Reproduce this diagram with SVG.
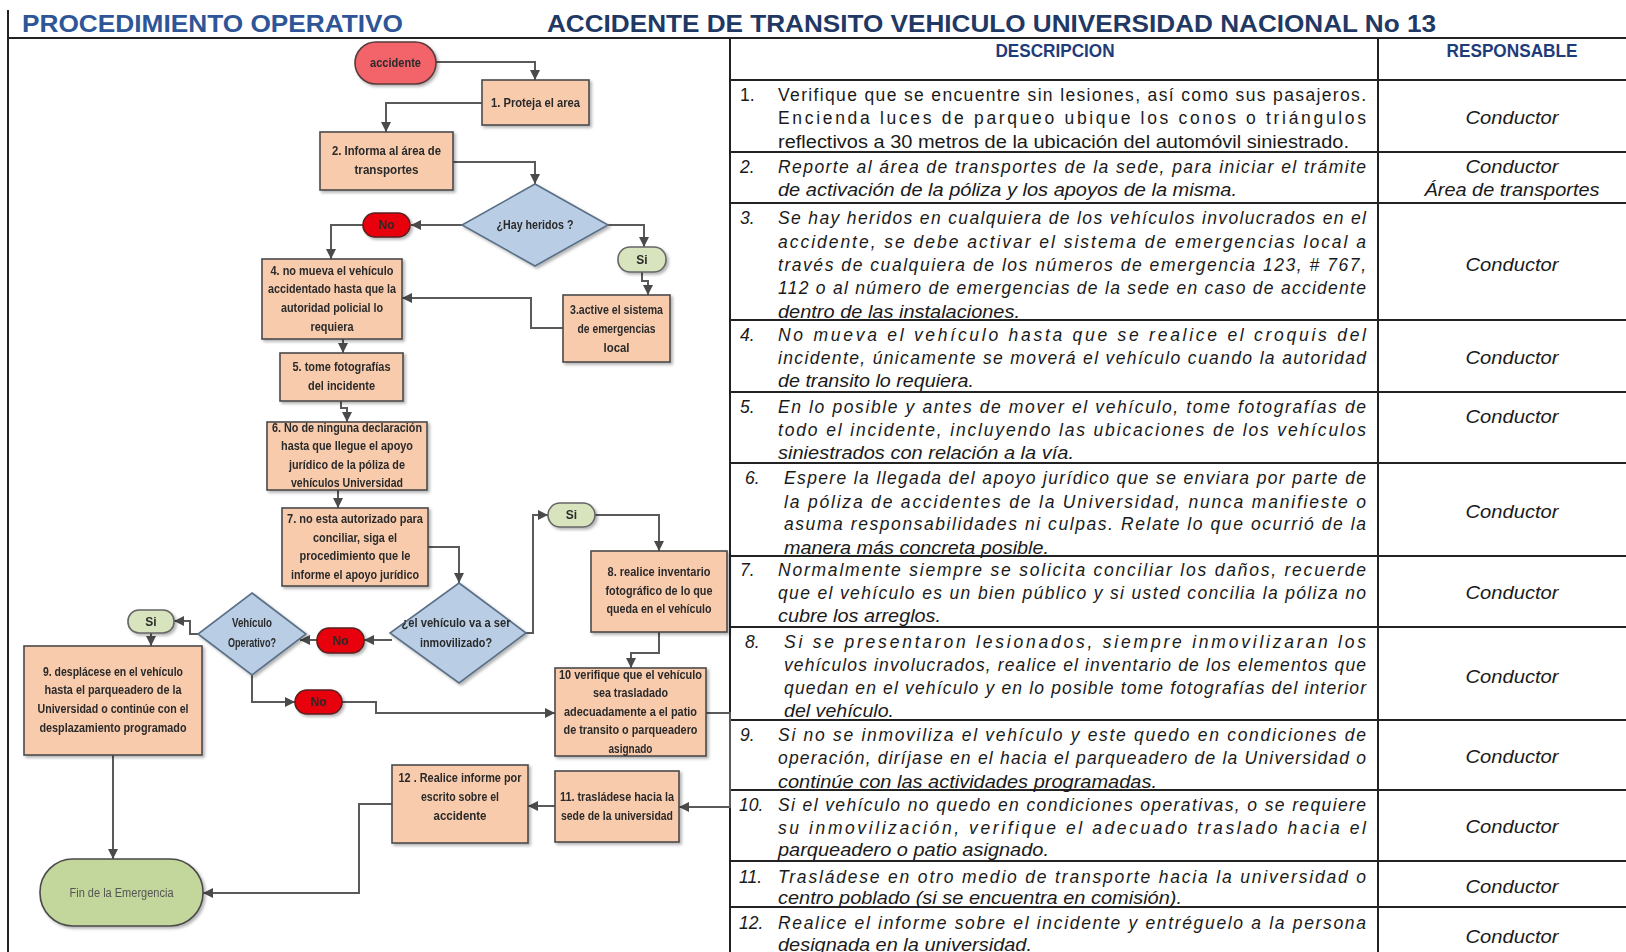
<svg xmlns="http://www.w3.org/2000/svg" width="1626" height="952" viewBox="0 0 1626 952">
<style>
.title{font-family:"Liberation Sans",Arial,sans-serif;font-weight:bold;font-size:24px}
.hdr{font-family:"Liberation Sans",Arial,sans-serif;font-weight:bold;font-size:18px;fill:#1F3C7A;text-anchor:middle}
.box{fill:#F8CBAD;stroke:#4a4a4a;stroke-width:1.6}
.dia{fill:#B9CDE5;stroke:#5a6f86;stroke-width:1.6}
.no{fill:#E8000A;stroke:#5a2020;stroke-width:1.6}
.si{fill:#D7E4BD;stroke:#666;stroke-width:1.6}
.nt{font-family:"Liberation Sans",Arial,sans-serif;font-size:12px;font-weight:bold;fill:#2a2a2a;text-anchor:middle}
.ln{stroke:#222;stroke-width:2;fill:none}
.cn{stroke:#5a5a5a;stroke-width:2;fill:none;marker-end:url(#ah)}
.tx{font-family:"Liberation Sans",Arial,sans-serif;font-size:17.5px;fill:#1a1a1a;font-style:italic}
.tx0{font-family:"Liberation Sans",Arial,sans-serif;font-size:17.5px;fill:#1a1a1a}
.rs{font-family:"Liberation Sans",Arial,sans-serif;font-size:17.5px;fill:#1a1a1a;font-style:italic;text-anchor:middle}
</style>
<defs>
<marker id="ah" viewBox="0 0 10 10" refX="10" refY="5" markerWidth="10" markerHeight="10" markerUnits="userSpaceOnUse" orient="auto">
<path d="M0,0 L10,5 L0,10 z" fill="#4a4a4a"/>
</marker>
<filter id="sh" x="-10%" y="-10%" width="130%" height="130%">
<feDropShadow dx="2" dy="2" stdDeviation="1.5" flood-color="#000" flood-opacity="0.3"/>
</filter>
</defs>
<rect width="1626" height="952" fill="#fff"/>

<g id="frame">
<line class="ln" x1="8" y1="10" x2="8" y2="952"/>
<line class="ln" x1="8" y1="38" x2="1626" y2="38" stroke-width="2.5"/>
<line class="ln" x1="730" y1="38" x2="730" y2="952"/>
<line class="ln" x1="1378" y1="38" x2="1378" y2="952"/>
<line class="ln" x1="730" y1="80" x2="1626" y2="80"/>
<line class="ln" x1="730" y1="152" x2="1626" y2="152"/>
<line class="ln" x1="730" y1="203" x2="1626" y2="203"/>
<line class="ln" x1="730" y1="320" x2="1626" y2="320"/>
<line class="ln" x1="730" y1="392" x2="1626" y2="392"/>
<line class="ln" x1="730" y1="463" x2="1626" y2="463"/>
<line class="ln" x1="730" y1="556" x2="1626" y2="556"/>
<line class="ln" x1="730" y1="627" x2="1626" y2="627"/>
<line class="ln" x1="730" y1="720" x2="1626" y2="720"/>
<line class="ln" x1="730" y1="790" x2="1626" y2="790"/>
<line class="ln" x1="730" y1="861" x2="1626" y2="861"/>
<line class="ln" x1="730" y1="907" x2="1626" y2="907"/>
<text class="title" x="22" y="32" fill="#2E5597" textLength="381" lengthAdjust="spacingAndGlyphs">PROCEDIMIENTO OPERATIVO</text>
<text class="title" x="547" y="32" fill="#1F3864" textLength="889" lengthAdjust="spacingAndGlyphs">ACCIDENTE DE TRANSITO VEHICULO UNIVERSIDAD NACIONAL No 13</text>
<text class="hdr" x="1055" y="57" textLength="119" lengthAdjust="spacingAndGlyphs">DESCRIPCION</text>
<text class="hdr" x="1512" y="57" textLength="131" lengthAdjust="spacingAndGlyphs">RESPONSABLE</text>
</g>

<g id="table-text">
<text class="tx0" x="740" y="101">1.</text>
<text class="tx0" x="778" y="101" textLength="588" lengthAdjust="spacing">Verifique que se encuentre sin lesiones, así como sus pasajeros.</text>
<text class="tx0" x="778" y="124" textLength="588" lengthAdjust="spacing">Encienda luces de parqueo ubique los conos o triángulos</text>
<text class="tx0" x="778" y="148" textLength="571" lengthAdjust="spacingAndGlyphs">reflectivos a 30 metros de la ubicación del automóvil siniestrado.</text>
<text class="rs" x="1512" y="124" textLength="93" lengthAdjust="spacingAndGlyphs">Conductor</text>

<text class="tx" x="740" y="173">2.</text>
<text class="tx" x="778" y="173" textLength="588" lengthAdjust="spacing">Reporte al área de transportes de la sede, para iniciar el trámite</text>
<text class="tx" x="778" y="196" textLength="459" lengthAdjust="spacingAndGlyphs">de activación de la póliza y los apoyos de la misma.</text>
<text class="rs" x="1512" y="173" textLength="93" lengthAdjust="spacingAndGlyphs">Conductor</text>
<text class="rs" x="1512" y="196" textLength="175" lengthAdjust="spacingAndGlyphs">Área de transportes</text>

<text class="tx" x="740" y="224">3.</text>
<text class="tx" x="778" y="224" textLength="588" lengthAdjust="spacing">Se hay heridos en cualquiera de los vehículos involucrados en el</text>
<text class="tx" x="778" y="248" textLength="588" lengthAdjust="spacing">accidente, se debe activar el sistema de emergencias local a</text>
<text class="tx" x="778" y="271" textLength="588" lengthAdjust="spacing">través de cualquiera de los números de emergencia 123, # 767,</text>
<text class="tx" x="778" y="294" textLength="588" lengthAdjust="spacing">112 o al número de emergencias de la sede en caso de accidente</text>
<text class="tx" x="778" y="318" textLength="242" lengthAdjust="spacingAndGlyphs">dentro de las instalaciones.</text>
<text class="rs" x="1512" y="271" textLength="93" lengthAdjust="spacingAndGlyphs">Conductor</text>

<text class="tx" x="740" y="341">4.</text>
<text class="tx" x="778" y="341" textLength="588" lengthAdjust="spacing">No mueva el vehículo hasta que se realice el croquis del</text>
<text class="tx" x="778" y="364" textLength="588" lengthAdjust="spacing">incidente, únicamente se moverá el vehículo cuando la autoridad</text>
<text class="tx" x="778" y="387" textLength="196" lengthAdjust="spacingAndGlyphs">de transito lo requiera.</text>
<text class="rs" x="1512" y="364" textLength="93" lengthAdjust="spacingAndGlyphs">Conductor</text>

<text class="tx" x="740" y="413">5.</text>
<text class="tx" x="778" y="413" textLength="588" lengthAdjust="spacing">En lo posible y antes de mover el vehículo, tome fotografías de</text>
<text class="tx" x="778" y="436" textLength="588" lengthAdjust="spacing">todo el incidente, incluyendo las ubicaciones de los vehículos</text>
<text class="tx" x="778" y="459" textLength="296" lengthAdjust="spacingAndGlyphs">siniestrados con relación a la vía.</text>
<text class="rs" x="1512" y="423" textLength="93" lengthAdjust="spacingAndGlyphs">Conductor</text>

<text class="tx" x="745" y="484">6.</text>
<text class="tx" x="784" y="484" textLength="582" lengthAdjust="spacing">Espere la llegada del apoyo jurídico que se enviara por parte de</text>
<text class="tx" x="784" y="508" textLength="582" lengthAdjust="spacing">la póliza de accidentes de la Universidad, nunca manifieste o</text>
<text class="tx" x="784" y="530" textLength="582" lengthAdjust="spacing">asuma responsabilidades ni culpas. Relate lo que ocurrió de la</text>
<text class="tx" x="784" y="554" textLength="265" lengthAdjust="spacingAndGlyphs">manera más concreta posible.</text>
<text class="rs" x="1512" y="518" textLength="93" lengthAdjust="spacingAndGlyphs">Conductor</text>

<text class="tx" x="740" y="576">7.</text>
<text class="tx" x="778" y="576" textLength="588" lengthAdjust="spacing">Normalmente siempre se solicita conciliar los daños, recuerde</text>
<text class="tx" x="778" y="599" textLength="588" lengthAdjust="spacing">que el vehículo es un bien público y si usted concilia la póliza no</text>
<text class="tx" x="778" y="622" textLength="163" lengthAdjust="spacingAndGlyphs">cubre los arreglos.</text>
<text class="rs" x="1512" y="599" textLength="93" lengthAdjust="spacingAndGlyphs">Conductor</text>

<text class="tx" x="745" y="648">8.</text>
<text class="tx" x="784" y="648" textLength="582" lengthAdjust="spacing">Si se presentaron lesionados, siempre inmovilizaran los</text>
<text class="tx" x="784" y="671" textLength="582" lengthAdjust="spacing">vehículos involucrados, realice el inventario de los elementos que</text>
<text class="tx" x="784" y="694" textLength="582" lengthAdjust="spacing">quedan en el vehículo y en lo posible tome fotografías del interior</text>
<text class="tx" x="784" y="717" textLength="110" lengthAdjust="spacingAndGlyphs">del vehículo.</text>
<text class="rs" x="1512" y="683" textLength="93" lengthAdjust="spacingAndGlyphs">Conductor</text>

<text class="tx" x="740" y="741">9.</text>
<text class="tx" x="778" y="741" textLength="588" lengthAdjust="spacing">Si no se inmoviliza el vehículo y este quedo en condiciones de</text>
<text class="tx" x="778" y="764" textLength="588" lengthAdjust="spacing">operación, diríjase en el hacia el parqueadero de la Universidad o</text>
<text class="tx" x="778" y="788" textLength="379" lengthAdjust="spacingAndGlyphs">continúe con las actividades programadas.</text>
<text class="rs" x="1512" y="763" textLength="93" lengthAdjust="spacingAndGlyphs">Conductor</text>

<text class="tx" x="739" y="811">10.</text>
<text class="tx" x="778" y="811" textLength="588" lengthAdjust="spacing">Si el vehículo no quedo en condiciones operativas, o se requiere</text>
<text class="tx" x="778" y="834" textLength="588" lengthAdjust="spacing">su inmovilización, verifique el adecuado traslado hacia el</text>
<text class="tx" x="778" y="856" textLength="271" lengthAdjust="spacingAndGlyphs">parqueadero o patio asignado.</text>
<text class="rs" x="1512" y="833" textLength="93" lengthAdjust="spacingAndGlyphs">Conductor</text>

<text class="tx" x="739" y="883">11.</text>
<text class="tx" x="778" y="883" textLength="588" lengthAdjust="spacing">Trasládese en otro medio de transporte hacia la universidad o</text>
<text class="tx" x="778" y="904" textLength="404" lengthAdjust="spacingAndGlyphs">centro poblado (si se encuentra en comisión).</text>
<text class="rs" x="1512" y="893" textLength="93" lengthAdjust="spacingAndGlyphs">Conductor</text>

<text class="tx" x="739" y="929">12.</text>
<text class="tx" x="778" y="929" textLength="588" lengthAdjust="spacing">Realice el informe sobre el incidente y entréguelo a la persona</text>
<text class="tx" x="778" y="951" textLength="254" lengthAdjust="spacingAndGlyphs">designada en la universidad.</text>
<text class="rs" x="1512" y="943" textLength="93" lengthAdjust="spacingAndGlyphs">Conductor</text>
</g>

<g id="connectors">
<path class="cn" d="M436,62 H535 V80"/>
<path class="cn" d="M482,103 H386 V132"/>
<path class="cn" d="M453,162 H535 V184"/>
<path class="cn" d="M462,225 H411"/>
<path class="cn" d="M363,225 H331 V259"/>
<path class="cn" d="M608,225 H644 V247"/>
<path class="cn" d="M642,272 V281 H648 V295"/>
<path class="cn" d="M563,328 H531 V298 H402"/>
<path class="cn" d="M343,339 V353"/>
<path class="cn" d="M341,401 V408 H347 V422"/>
<path class="cn" d="M338,490 V508"/>
<path class="cn" d="M428,547 H459 V583"/>
<path class="cn" d="M524,633 H533 V515 H548"/>
<path class="cn" d="M595,515 H659 V551"/>
<path class="cn" d="M659,632 V653 H631 V668"/>
<path class="cn" d="M392,640 H364"/>
<path class="cn" d="M317,640 H300"/>
<path class="cn" d="M198,634 H190 V621 H174"/>
<path class="cn" d="M151,633 V646"/>
<path class="cn" d="M252,675 V702 H295"/>
<path class="cn" d="M342,702 H376 V713 H555"/>
<path class="cn" d="M706,713 H730 V807 H679"/>
<path class="cn" d="M555,806 H528"/>
<path class="cn" d="M392,804 H359 V893 H203"/>
<path class="cn" d="M113,755 V859"/>
</g>

<g id="n-accidente" filter="url(#sh)">
<rect x="355" y="42" width="81" height="42" rx="21" fill="#F2636B" stroke="#5a3a3a" stroke-width="1.6"/>
<text class="nt" x="395.5" y="67" textLength="51" lengthAdjust="spacingAndGlyphs">accidente</text>
</g>
<g id="n-1" filter="url(#sh)">
<rect class="box" x="482" y="80" width="107" height="45"/>
<text class="nt" x="535.5" y="107" textLength="89" lengthAdjust="spacingAndGlyphs">1. Proteja el area</text>
</g>
<g id="n-2" filter="url(#sh)">
<rect class="box" x="320" y="132" width="133" height="58"/>
<text class="nt" x="386.5" y="155" textLength="109" lengthAdjust="spacingAndGlyphs">2. Informa al área de</text>
<text class="nt" x="386.5" y="174" textLength="64" lengthAdjust="spacingAndGlyphs">transportes</text>
</g>
<g id="d-heridos" filter="url(#sh)">
<polygon class="dia" points="535,184 608,225 535,266 462,225"/>
<text class="nt" x="535" y="229" textLength="77" lengthAdjust="spacingAndGlyphs">¿Hay heridos ?</text>
</g>
<g id="p-no1" filter="url(#sh)">
<rect class="no" x="363" y="213" width="47" height="24" rx="12"/>
<text class="nt" x="386.5" y="229">No</text>
</g>
<g id="p-si1" filter="url(#sh)">
<rect class="si" x="618" y="247" width="48" height="25" rx="12"/>
<text class="nt" x="642" y="264">Si</text>
</g>
<g id="n-3" filter="url(#sh)">
<rect class="box" x="563" y="295" width="107" height="67"/>
<text class="nt" x="616.5" y="314" textLength="93" lengthAdjust="spacingAndGlyphs">3.active el sistema</text>
<text class="nt" x="616.5" y="333" textLength="78" lengthAdjust="spacingAndGlyphs">de emergencias</text>
<text class="nt" x="616.5" y="352" textLength="26" lengthAdjust="spacingAndGlyphs">local</text>
</g>
<g id="n-4" filter="url(#sh)">
<rect class="box" x="262" y="259" width="140" height="80"/>
<text class="nt" x="332" y="275" textLength="123" lengthAdjust="spacingAndGlyphs">4. no mueva el vehículo</text>
<text class="nt" x="332" y="293" textLength="128" lengthAdjust="spacingAndGlyphs">accidentado hasta que la</text>
<text class="nt" x="332" y="312" textLength="102" lengthAdjust="spacingAndGlyphs">autoridad policial lo</text>
<text class="nt" x="332" y="331" textLength="43" lengthAdjust="spacingAndGlyphs">requiera</text>
</g>
<g id="n-5" filter="url(#sh)">
<rect class="box" x="280" y="353" width="123" height="48"/>
<text class="nt" x="341.5" y="371" textLength="98" lengthAdjust="spacingAndGlyphs">5. tome fotografías</text>
<text class="nt" x="341.5" y="390" textLength="67" lengthAdjust="spacingAndGlyphs">del incidente</text>
</g>
<g id="n-6" filter="url(#sh)">
<rect class="box" x="267" y="422" width="160" height="68"/>
<text class="nt" x="347" y="432" textLength="150" lengthAdjust="spacingAndGlyphs">6. No de ninguna declaración</text>
<text class="nt" x="347" y="450" textLength="132" lengthAdjust="spacingAndGlyphs">hasta que llegue el apoyo</text>
<text class="nt" x="347" y="469" textLength="116" lengthAdjust="spacingAndGlyphs">jurídico de la póliza de</text>
<text class="nt" x="347" y="487" textLength="112" lengthAdjust="spacingAndGlyphs">vehículos Universidad</text>
</g>
<g id="n-7" filter="url(#sh)">
<rect class="box" x="282" y="508" width="146" height="78"/>
<text class="nt" x="355" y="523" textLength="136" lengthAdjust="spacingAndGlyphs">7. no esta autorizado para</text>
<text class="nt" x="355" y="542" textLength="84" lengthAdjust="spacingAndGlyphs">conciliar, siga el</text>
<text class="nt" x="355" y="560" textLength="111" lengthAdjust="spacingAndGlyphs">procedimiento que le</text>
<text class="nt" x="355" y="579" textLength="128" lengthAdjust="spacingAndGlyphs">informe el apoyo jurídico</text>
</g>
<g id="d-inmovilizado" filter="url(#sh)">
<polygon class="dia" points="459,583 526,633 459,683 390,633"/>
<text class="nt" x="456" y="627" textLength="109" lengthAdjust="spacingAndGlyphs">¿el vehículo va a ser</text>
<text class="nt" x="456" y="647" textLength="72" lengthAdjust="spacingAndGlyphs">inmovilizado?</text>
</g>
<g id="p-si2" filter="url(#sh)">
<rect class="si" x="548" y="503" width="47" height="24" rx="12"/>
<text class="nt" x="571.5" y="519">Si</text>
</g>
<g id="n-8" filter="url(#sh)">
<rect class="box" x="591" y="551" width="136" height="81"/>
<text class="nt" x="659" y="576" textLength="103" lengthAdjust="spacingAndGlyphs">8. realice inventario</text>
<text class="nt" x="659" y="595" textLength="107" lengthAdjust="spacingAndGlyphs">fotográfico de lo que</text>
<text class="nt" x="659" y="613" textLength="105" lengthAdjust="spacingAndGlyphs">queda en el vehículo</text>
</g>
<g id="p-no2" filter="url(#sh)">
<rect class="no" x="317" y="628" width="47" height="25" rx="12"/>
<text class="nt" x="340.5" y="645">No</text>
</g>
<g id="d-operativo" filter="url(#sh)">
<polygon class="dia" points="252,593 306,634 252,675 198,634"/>
<text class="nt" x="252" y="627" textLength="40" lengthAdjust="spacingAndGlyphs">Vehículo</text>
<text class="nt" x="252" y="647" textLength="48" lengthAdjust="spacingAndGlyphs">Operativo?</text>
</g>
<g id="p-si3" filter="url(#sh)">
<rect class="si" x="128" y="610" width="46" height="23" rx="11"/>
<text class="nt" x="151" y="626">Si</text>
</g>
<g id="n-9" filter="url(#sh)">
<rect class="box" x="24" y="646" width="178" height="109"/>
<text class="nt" x="113" y="676" textLength="140" lengthAdjust="spacingAndGlyphs">9. desplácese en el vehículo</text>
<text class="nt" x="113" y="694" textLength="137" lengthAdjust="spacingAndGlyphs">hasta el parqueadero de la</text>
<text class="nt" x="113" y="713" textLength="151" lengthAdjust="spacingAndGlyphs">Universidad o continúe con el</text>
<text class="nt" x="113" y="732" textLength="147" lengthAdjust="spacingAndGlyphs">desplazamiento programado</text>
</g>
<g id="p-no3" filter="url(#sh)">
<rect class="no" x="295" y="690" width="47" height="24" rx="12"/>
<text class="nt" x="318.5" y="706">No</text>
</g>
<g id="n-10" filter="url(#sh)">
<rect class="box" x="555" y="668" width="151" height="88"/>
<text class="nt" x="630.5" y="679" textLength="143" lengthAdjust="spacingAndGlyphs">10 verifique que el vehículo</text>
<text class="nt" x="630.5" y="697" textLength="75" lengthAdjust="spacingAndGlyphs">sea trasladado</text>
<text class="nt" x="630.5" y="716" textLength="133" lengthAdjust="spacingAndGlyphs">adecuadamente a el patio</text>
<text class="nt" x="630.5" y="734" textLength="134" lengthAdjust="spacingAndGlyphs">de transito o parqueadero</text>
<text class="nt" x="630.5" y="753" textLength="44" lengthAdjust="spacingAndGlyphs">asignado</text>
</g>
<g id="n-11" filter="url(#sh)">
<rect class="box" x="555" y="771" width="124" height="71"/>
<text class="nt" x="617" y="801" textLength="114" lengthAdjust="spacingAndGlyphs">11. trasládese hacia la</text>
<text class="nt" x="617" y="820" textLength="112" lengthAdjust="spacingAndGlyphs">sede de la universidad</text>
</g>
<g id="n-12" filter="url(#sh)">
<rect class="box" x="392" y="765" width="136" height="78"/>
<text class="nt" x="460" y="782" textLength="123" lengthAdjust="spacingAndGlyphs">12 . Realice informe por</text>
<text class="nt" x="460" y="801" textLength="78" lengthAdjust="spacingAndGlyphs">escrito sobre el</text>
<text class="nt" x="460" y="820" textLength="53" lengthAdjust="spacingAndGlyphs">accidente</text>
</g>
<g id="n-fin" filter="url(#sh)">
<rect x="40" y="859" width="163" height="67" rx="33" fill="#C3D69B" stroke="#4a4a4a" stroke-width="1.6"/>
<text class="nt" x="121.5" y="897" style="font-weight:normal;fill:#555" textLength="104" lengthAdjust="spacingAndGlyphs">Fin de la Emergencia</text>
</g>
</svg>
